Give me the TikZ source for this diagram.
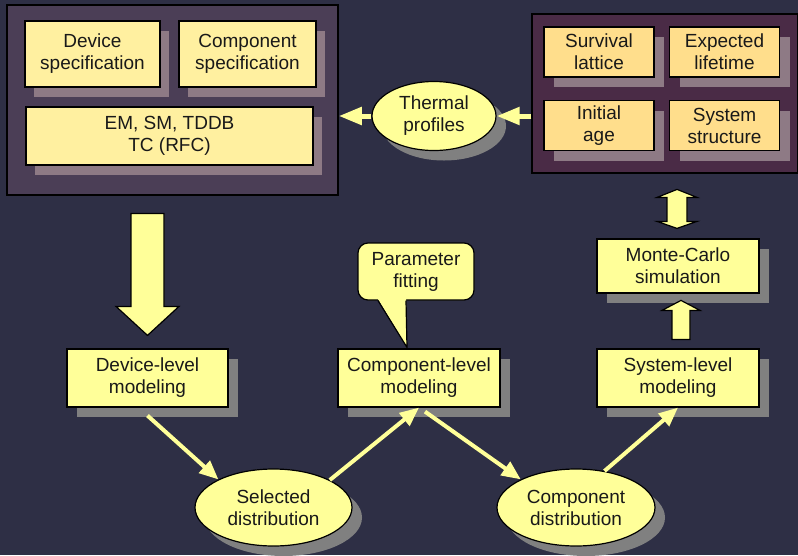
\documentclass[tikz,border=0pt]{standalone}
\usepackage{fontspec}
\setmainfont{Liberation Sans}
\usetikzlibrary{positioning,shapes.geometric,shadows,arrows.meta,calc}

\definecolor{bgnavy}{RGB}{46,47,69}
\definecolor{panelgrey}{RGB}{75,62,86}
\definecolor{panelplum}{RGB}{74,43,70}
\definecolor{lightyellow}{RGB}{255,255,153}
\definecolor{cream}{RGB}{255,240,160}
\definecolor{apricot}{RGB}{255,222,140}
\definecolor{panelshadow}{RGB}{142,122,133}
\definecolor{darkshadow}{RGB}{128,128,128}

\tikzset{
  every node/.style={font=\fontsize{19}{22}\selectfont, align=center, text=black!90, inner sep=0pt},
  panel/.style={draw=black, line width=1.5pt},
  box/.style={draw=black, line width=1.2pt, fill=lightyellow,
    general shadow={fill=darkshadow, shadow xshift=10pt, shadow yshift=-10pt}},
  specbox/.style={draw=black, line width=1.2pt, fill=cream,
    general shadow={fill=panelshadow, shadow xshift=9pt, shadow yshift=-10pt}},
  sysbox/.style={draw=black, line width=1.2pt, fill=apricot, minimum width=110pt, minimum height=50pt,
    general shadow={fill=panelshadow, shadow xshift=10pt, shadow yshift=-10pt}},
  bubble/.style={ellipse, draw=black, line width=1.2pt, fill=lightyellow,
    general shadow={fill=darkshadow, shadow xshift=10pt, shadow yshift=-10pt}},
  note/.style={draw=black, line width=1.2pt, fill=lightyellow, rounded corners=10pt},
  flow/.style={draw=lightyellow, line width=4pt, -{Triangle[length=19pt, width=16pt]}},
  feed/.style={draw=lightyellow, line width=5pt, -{Triangle[length=23pt, width=17pt]}},
  blockarrow/.style={draw=black, line width=1.2pt, fill=lightyellow, line join=miter}
}

\begin{document}
\begin{tikzpicture}[x=1pt, y=-1pt]
\fill[bgnavy] (0,0) rectangle (798,555);
\useasboundingbox (0,0) rectangle (798,555);
% the two panels
\node[panel, fill=panelgrey, minimum width=331pt, minimum height=190pt] (leftpanel) at (172.5,100) {};
\node[panel, fill=panelplum, minimum width=266pt, minimum height=159pt] (rightpanel) at (665,93.5) {};
% inputs
\node[specbox, minimum width=135pt, minimum height=66pt] (devspec) at (92.5,54) {Device\\specification};
\node[specbox, minimum width=137pt, minimum height=66pt] (compspec) at (247.5,54) {Component\\specification};
\node[specbox, minimum width=287pt, minimum height=58pt] (mechs) at (169.5,136) {EM, SM, TDDB\\TC (RFC)};
% outputs
\node[sysbox] (survival) at (599,52) {Survival\\lattice};
\node[sysbox] (lifetime) at (724.5,52) {Expected\\lifetime};
\node[sysbox] (initage) at (599,125.5) {Initial\\age};
\node[sysbox] (structure) at (724.5,125.5) {System\\structure};
\node[bubble, minimum width=124pt, minimum height=69pt] (thermal) at (434,116) {Thermal\\profiles};
\draw[feed] (thermal.east -| rightpanel.west) -- (thermal.east);
\draw[feed] (thermal.west) -- (thermal.west -| leftpanel.east);
% modeling chain
\node[box, minimum width=161pt, minimum height=58pt] (devlvl) at (147.5,378) {Device-level\\modeling};
\node[box, minimum width=162pt, minimum height=58pt] (complvl) at (419,378) {Component-level\\modeling};
\node[box, minimum width=162pt, minimum height=58pt] (syslvl) at (678,378) {System-level\\modeling};
\node[box, minimum width=162pt, minimum height=54pt] (montecarlo) at (678,266) {Monte-Carlo\\simulation};
\node[bubble, minimum width=157pt, minimum height=77pt] (seldist) at (273.5,507.5) {Selected\\distribution};
\node[bubble, minimum width=158pt, minimum height=77pt] (compdist) at (576,507.5) {Component\\distribution};
\node[note, minimum width=116pt, minimum height=57pt] (fitting) at (416,271.5) {Parameter\\fitting};
\coordinate (fittip) at ($(complvl.north)+(-12,-1)$);
\fill[lightyellow] ($(fitting.south)+(-38,-1.5)$) -- (fittip) -- ($(fitting.south)+(-10,-1.5)$) -- cycle;
\draw[line width=1.2pt, line join=miter] ($(fitting.south)+(-38,0)$) -- (fittip) -- ($(fitting.south)+(-10,0)$);
\draw[flow] ($(devlvl.south)+(0,8)$) -- (seldist.153);
\draw[flow] (seldist.26) -- (complvl.south);
\draw[flow] ($(complvl.south)+(6,4)$) -- (compdist.153);
\draw[flow] (compdist.52) -- (syslvl.south);
% block arrows
\begin{scope}[shift={(devlvl.north)}]
  \draw[blockarrow] (0,-13) -- (31.5,-42) -- (16.5,-42) -- (16.5,-135) -- (-16.5,-135) -- (-16.5,-42) -- (-31.5,-42) -- cycle;
\end{scope}
\begin{scope}[shift={(syslvl.north)}]
  \draw[blockarrow] (3,-48) -- (22,-38) -- (12,-38) -- (12,-9) -- (-6,-9) -- (-6,-38) -- (-16,-38) -- cycle;
\end{scope}
\begin{scope}[shift={(montecarlo.north)}]
  \draw[blockarrow] (-1,-10) -- (19,-17) -- (9,-17) -- (9,-41) -- (19,-41) -- (-1,-49) -- (-21,-41) -- (-11,-41) -- (-11,-17) -- (-21,-17) -- cycle;
\end{scope}
\end{tikzpicture}
\end{document}
